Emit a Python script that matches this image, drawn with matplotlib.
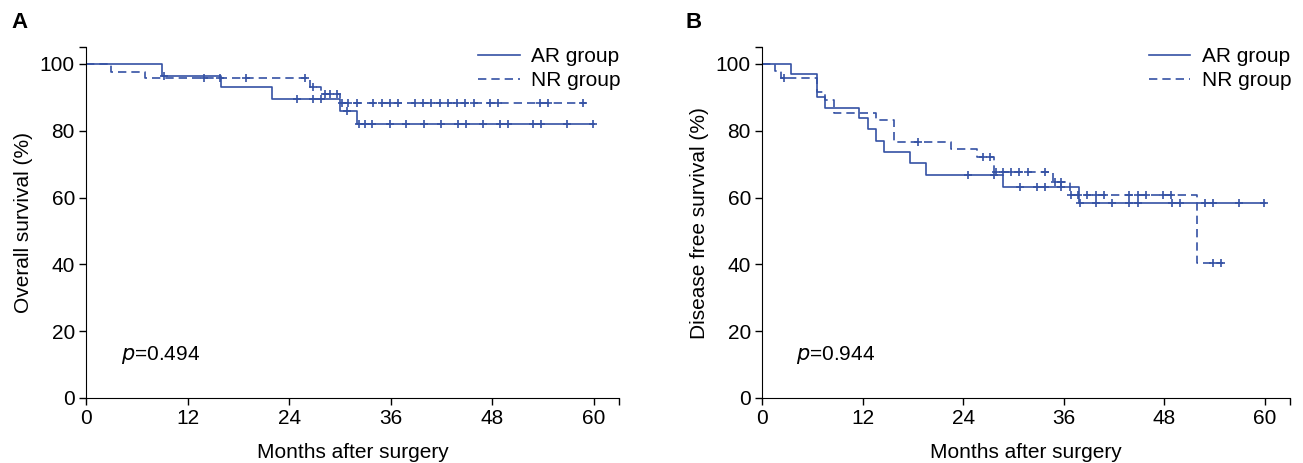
"""
Kaplan-Meier curves: overall and disease free survival, AR vs NR group
"""

import numpy as np
import matplotlib
matplotlib.use("Agg")
import matplotlib.pyplot as plt

plt.rcParams['font.family'] = ['Liberation Sans', 'DejaVu Sans']
plt.rcParams['font.size'] = 15

# panel A - overall survival
a_ar_times = [0, 9, 16, 22, 30, 32]
a_ar_surv = [100, 96.5, 93.0, 89.5, 86.0, 82.0]
a_ar_end = 60
a_ar_cens = [9.2, 24.9, 26.8, 27.8, 30.8, 32.3, 32.9, 33.8, 35.9, 37.8, 39.9,
             41.9, 43.9, 44.9, 46.9, 48.9, 49.8, 52.8, 53.7, 56.8, 59.9]

a_nr_times = [0, 3, 7, 26.5, 27.8, 30]
a_nr_surv = [100, 97.5, 95.7, 93.2, 91.0, 88.4]
a_nr_end = 59
a_nr_cens = [13.9, 15.8, 18.9, 25.9, 26.8, 28.2, 28.8, 29.6, 30.2, 31.0, 32.0,
             33.9, 34.9, 35.9, 36.9, 38.9, 39.8, 40.8, 41.8, 42.8, 43.8, 44.8,
             45.8, 47.7, 48.7, 53.6, 54.6, 58.7]

# panel B - disease free survival
b_ar_times = [0, 3.5, 6.6, 7.5, 11.6, 12.6, 13.6, 14.6, 17.7, 19.6, 28.7, 37.8]
b_ar_surv = [100, 96.9, 90.2, 86.9, 83.7, 80.4, 77.0, 73.7, 70.3, 66.9, 63.3, 58.3]
b_ar_end = 60
b_ar_cens = [24.6, 27.7, 30.8, 32.8, 33.8, 35.7, 37.9, 39.8, 41.8, 43.8, 44.8,
             48.9, 49.9, 52.8, 53.8, 56.9, 59.9]

b_nr_times = [0, 1.5, 2.3, 6.6, 7.5, 8.6, 13.6, 15.7, 22.6, 25.7, 27.7, 34.7,
              36.7, 51.9]
b_nr_surv = [100, 98.0, 95.7, 91.5, 89.2, 85.2, 83.2, 76.7, 74.4, 72.2, 67.8,
             64.8, 60.9, 40.5]
b_nr_end = 55
b_nr_cens = [2.6, 18.6, 26.4, 27.2, 27.9, 28.8, 29.7, 30.7, 31.7, 33.8, 34.9,
             35.7, 36.9, 37.7, 38.8, 39.8, 40.8, 43.8, 44.8, 45.8, 47.8, 48.8,
             53.8, 54.8]

x_ticks = [0, 12, 24, 36, 48, 60]
y_ticks = [0, 20, 40, 60, 80, 100]

COLOR = "#3552a4"


def surv_at(times, surv, t):
    idx = np.searchsorted(times, t, side='right') - 1
    return np.asarray(surv)[idx]


def draw_km(ax, times, surv, end, cens, ls, label):
    x = list(times) + [end]
    y = list(surv) + [surv[-1]]
    if ls == '--':
        ax.step(x, y, where='post', color=COLOR, linestyle='--', dashes=(5, 3),
                linewidth=1.2, label=label)
    else:
        ax.step(x, y, where='post', color=COLOR, linestyle='-', linewidth=1.2,
                label=label)
    ax.plot(cens, surv_at(times, surv, cens), linestyle='none', marker='+',
            markersize=6, markeredgewidth=1.2, color=COLOR)


def style_axes(ax, ylabel, ptext):
    ax.set_xlim(0, 63)
    ax.set_ylim(0, 105)
    ax.spines['top'].set_visible(False)
    ax.spines['right'].set_visible(False)
    ax.set_xticks(x_ticks + [63])
    ax.set_xticklabels([str(t) for t in x_ticks] + [''])
    ax.set_yticks(y_ticks + [105])
    ax.set_yticklabels([str(t) for t in y_ticks] + [''])
    ax.tick_params(direction='out', length=5, width=1, pad=3)
    ax.set_xlabel("Months after surgery", labelpad=11)
    ax.set_ylabel(ylabel, labelpad=5)
    ax.text(4.1, 13, ptext, ha='left', va='center')
    ax.legend(loc='upper right', bbox_to_anchor=(1.022, 1.03), frameon=False,
              handlelength=2.0, handletextpad=0.55, borderaxespad=0.1,
              labelspacing=0.25)


fig = plt.figure(figsize=(13.03, 4.63), dpi=100)
ax_a = fig.add_axes([0.066, 0.1404, 0.4094, 0.7575])
ax_b = fig.add_axes([0.5848, 0.1404, 0.4053, 0.7575])

draw_km(ax_a, a_ar_times, a_ar_surv, a_ar_end, a_ar_cens, '-', 'AR group')
draw_km(ax_a, a_nr_times, a_nr_surv, a_nr_end, a_nr_cens, '--', 'NR group')
style_axes(ax_a, "Overall survival (%)", "$\\it{p}$=0.494")

draw_km(ax_b, b_ar_times, b_ar_surv, b_ar_end, b_ar_cens, '-', 'AR group')
draw_km(ax_b, b_nr_times, b_nr_surv, b_nr_end, b_nr_cens, '--', 'NR group')
style_axes(ax_b, "Disease free survival (%)", "$\\it{p}$=0.944")

fig.text(0.009, 0.94, "A", fontsize=16, fontweight='bold')
fig.text(0.526, 0.94, "B", fontsize=16, fontweight='bold')

fig.savefig("out.png", dpi=100)
